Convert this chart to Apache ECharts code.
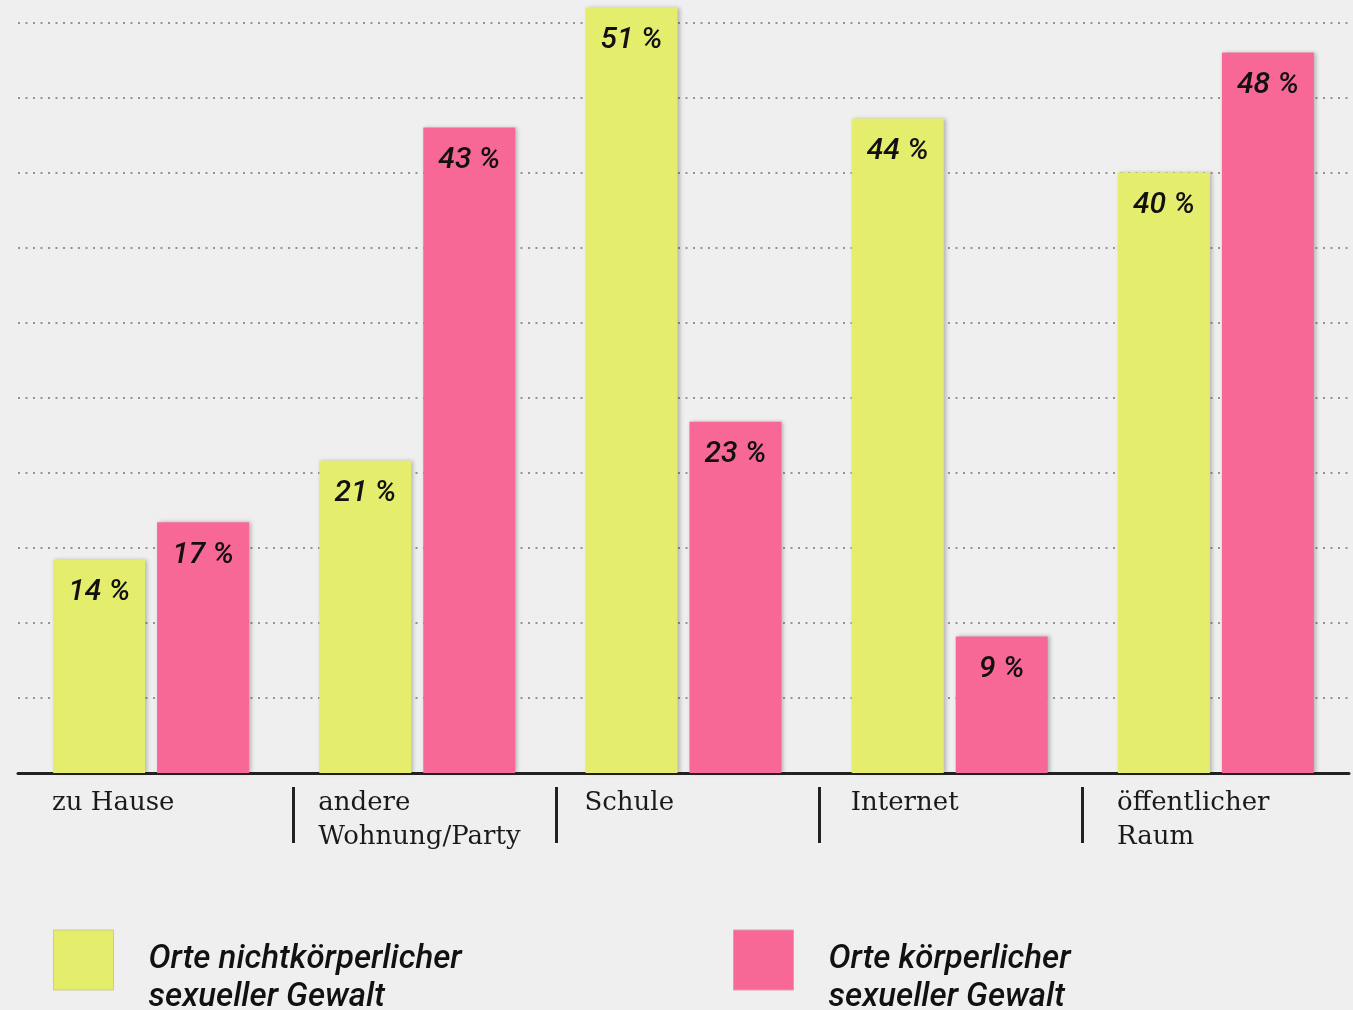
<!DOCTYPE html>
<html><head><meta charset="utf-8">
<script src="https://cdn.jsdelivr.net/npm/echarts@6/dist/echarts.min.js"></script>
<style>html,body{margin:0;padding:0;background:#efefef}#c{width:1353px;height:1010px}</style>
</head><body><div id="c"></div>
<script>
const categories = ['zu Hause', 'andere\nWohnung/Party', 'Schule', 'Internet', 'öffentlicher\nRaum'];
const nonPhysical = [14.2, 20.8, 51, 43.6, 40];
const physical = [16.7, 43, 23.4, 9.1, 48];
const seriesNames = ['Orte nichtkörperlicher\nsexueller Gewalt', 'Orte körperlicher\nsexueller Gewalt'];
const separatorTicks = [1, 2, 3, 4];

const chart = echarts.init(document.getElementById('c'));
const labelStyle = {
  show: true, position: 'insideTop', distance: 18,
  formatter: p => Math.round(p.value) + ' %',
  fontFamily: 'Roboto', fontWeight: 500, fontStyle: 'italic', fontSize: 30, color: '#111'
};
const legendText = {
  fontFamily: 'Roboto', fontWeight: 500, fontStyle: 'italic', fontSize: 33, color: '#111',
  lineHeight: 38, padding: [0, 0, 0, 30]
};
chart.setOption({
  backgroundColor: '#efefef',
  animation: false,
  legend: [
    { data: [seriesNames[0]], left: 53, top: 903, itemWidth: 60, itemHeight: 60, padding: 0,
      icon: 'rect', textStyle: legendText, formatter: n => '\n' + n,
      itemStyle: { borderColor: '#c9cc8a', borderWidth: 1 } },
    { data: [seriesNames[1]], left: 733, top: 903, itemWidth: 60, itemHeight: 60, padding: 0,
      icon: 'rect', textStyle: legendText, formatter: n => '\n' + n,
      itemStyle: { borderColor: '#d9a0b0', borderWidth: 1 } }
  ],
  grid: [
    { left: 18, right: 4, top: 0, bottom: 237 },
    { left: 52, right: 236, top: 0, bottom: 237 }
  ],
  xAxis: [
    { type: 'category', data: categories, gridIndex: 0,
      axisLine: { lineStyle: { color: '#222', width: 3 } },
      axisTick: { show: false }, axisLabel: { show: false } },
    { type: 'category', data: categories, gridIndex: 1, boundaryGap: false,
      axisLine: { show: false }, axisTick: { show: false },
      axisLabel: { align: 'left', margin: 13, fontFamily: 'DejaVu Serif', fontSize: 26,
        lineHeight: 34, color: '#1a1a1a', verticalAlign: 'top' } },
    { type: 'value', min: -0.046, max: 5.015, gridIndex: 0, offset: 14, position: 'bottom',
      axisLine: { show: false }, splitLine: { show: false }, axisLabel: { show: false },
      axisTick: { show: true, customValues: separatorTicks, length: 56, inside: false,
        lineStyle: { color: '#222', width: 3 } } }
  ],
  yAxis: [
    { type: 'value', min: 0, max: 51.5, interval: 5, gridIndex: 0,
      axisLine: { show: false }, axisTick: { show: false }, axisLabel: { show: false },
      splitLine: { show: true, showMaxLine: false, showMinLine: false,
        lineStyle: { color: '#949494', type: [2, 5.5], width: 2 } } },
    { type: 'value', min: 0, max: 51.5, gridIndex: 1, show: false, splitLine: { show: false } }
  ],
  series: [
    { name: seriesNames[0], type: 'bar', data: nonPhysical, xAxisIndex: 0, yAxisIndex: 0,
      barWidth: 92, barGap: '13%', z: 3,
      itemStyle: { color: '#e5ee6c', shadowColor: 'rgba(0,0,0,0.25)', shadowBlur: 4, shadowOffsetX: 2, shadowOffsetY: 0 },
      label: labelStyle },
    { name: seriesNames[1], type: 'bar', data: physical, xAxisIndex: 0, yAxisIndex: 0,
      barWidth: 92, barGap: '13%', z: 3,
      itemStyle: { color: '#f76897', shadowColor: 'rgba(0,0,0,0.25)', shadowBlur: 4, shadowOffsetX: 2, shadowOffsetY: 0 },
      label: labelStyle }
  ]
});
</script></body></html>
